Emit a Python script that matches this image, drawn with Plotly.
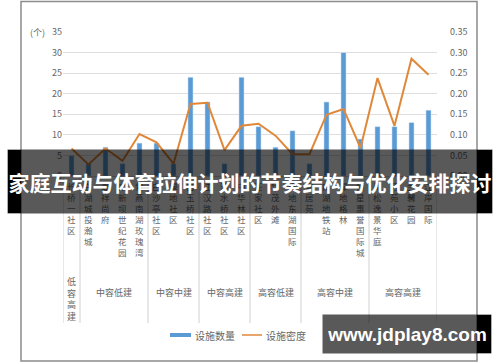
import plotly.graph_objects as go

categories = ["长桥一社区", "东湖城投瀚城", "嘉祥尚府", "南新坝世纪花园", "紫燕南湖玫瑰湾",
              "白沙亭社区", "绿地社区", "白玉桥社区", "江汉路社区", "清水桥社区", "中华林社区",
              "汪家社区", "华茂外滩", "绿地东湖国际", "安居苑", "南湖地铁站", "绿地格林",
              "恒星惠誉国际城", "青松逸景华庭", "芳苑小区", "兰馨花园", "江岸国际"]
facility_count = [5, 3, 7, 3, 8, 8, 3, 24, 18, 3, 24, 12, 7, 11, 3, 18, 30, 9, 12, 12, 13, 16]
facility_density = [0.067, 0.028, 0.067, 0.037, 0.102, 0.082, 0.03, 0.175, 0.178, 0.063, 0.122,
                    0.127, 0.098, 0.053, 0.053, 0.149, 0.163, 0.068, 0.238, 0.122, 0.285, 0.246]
groups = ["低容高建", "中容低建", "中容中建", "中容高建", "高容低建", "高容中建", "高容高建"]
group_sizes = [1, 4, 3, 3, 3, 4, 4]
left_ticks = [0, 5, 10, 15, 20, 25, 30, 35]
right_ticks = [0, 0.05, 0.10, 0.15, 0.20, 0.25, 0.30, 0.35]
title_text = "家庭互动与体育拉伸计划的节奏结构与优化安排探讨"
watermark = "www.jdplay8.com"
legend_names = ["设施数量", "设施密度"]

W, H = 500, 362
L, R, T, B = 63, 437, 32, 176
CJK = "Noto Sans CJK SC"
GRAY = "#666666"
BLUE = "#5b9bd5"
ORANGE = "#e0883a"


def fx(x):
    return (x - L) / (R - L)


def fy(y):
    return (B - y) / (B - T)


fig = go.Figure()
fig.add_trace(go.Bar(x=categories, y=facility_count, marker_color=BLUE, width=0.3,
                     name=legend_names[0], showlegend=False))
fig.add_trace(go.Scatter(x=categories, y=facility_density, mode="lines",
                         line=dict(color=ORANGE, width=2), yaxis="y2",
                         name=legend_names[1], showlegend=False))

shapes = []
annotations = []

# outer frame
shapes.append(dict(type="rect", xref="paper", yref="paper", x0=fx(21), x1=fx(477),
                   y0=fy(361), y1=fy(1.5), line=dict(color="#8c8c8c", width=1.5),
                   fillcolor="rgba(0,0,0,0)", layer="below"))

# group separators
bounds = [-0.5]
acc = -0.5
for s in group_sizes:
    acc += s
    bounds.append(acc)
for b in bounds:
    shapes.append(dict(type="line", xref="x", yref="paper", x0=b, x1=b,
                       y0=fy(176), y1=fy(323), line=dict(color="#d0d0d0", width=1)))

# category labels (vertical text)
for c in categories:
    annotations.append(dict(x=c, xref="x", y=fy(178), yref="paper", yanchor="top",
                            xanchor="center", showarrow=False, text="<br>".join(c),
                            font=dict(family=CJK, size=8.5, color=GRAY)))

# group labels
start = 0
for g, s in zip(groups, group_sizes):
    center = start + (s - 1) / 2
    if s == 1:
        annotations.append(dict(x=center, xref="x", y=fy(273), yref="paper",
                                xanchor="center", yanchor="top",
                                showarrow=False, text="<br>".join(g),
                                font=dict(family=CJK, size=9, color=GRAY)))
    else:
        annotations.append(dict(x=center, xref="x", y=fy(292), yref="paper",
                                xanchor="center", yanchor="middle",
                                showarrow=False, text=g,
                                font=dict(family=CJK, size=9, color=GRAY)))
    start += s

# unit label
annotations.append(dict(x=fx(37), xref="paper", y=fy(32), yref="paper", showarrow=False,
                        xanchor="center", yanchor="middle",
                        text="(个)", font=dict(family=CJK, size=9, color=GRAY)))

# legend
shapes.append(dict(type="line", xref="paper", yref="paper", x0=fx(170), x1=fx(191),
                   y0=fy(335), y1=fy(335), line=dict(color=BLUE, width=4)))
shapes.append(dict(type="line", xref="paper", yref="paper", x0=fx(242), x1=fx(262),
                   y0=fy(335), y1=fy(335), line=dict(color=ORANGE, width=1.5)))
annotations.append(dict(x=fx(193), xref="paper", y=fy(335), yref="paper",
                        xanchor="left", yanchor="middle",
                        showarrow=False, text=legend_names[0],
                        font=dict(family=CJK, size=10, color=GRAY)))
annotations.append(dict(x=fx(264), xref="paper", y=fy(335), yref="paper",
                        xanchor="left", yanchor="middle",
                        showarrow=False, text=legend_names[1],
                        font=dict(family=CJK, size=10, color=GRAY)))

# black ends of overlay bands
shapes.append(dict(type="rect", xref="paper", yref="paper", x0=fx(8), x1=fx(21),
                   y0=fy(213), y1=fy(150), fillcolor="black", line=dict(width=0)))
shapes.append(dict(type="rect", xref="paper", yref="paper", x0=fx(477), x1=fx(492),
                   y0=fy(213), y1=fy(150), fillcolor="black", line=dict(width=0)))
shapes.append(dict(type="rect", xref="paper", yref="paper", x0=fx(477), x1=fx(491),
                   y0=fy(353), y1=fy(315), fillcolor="black", line=dict(width=0)))

# title band
annotations.append(dict(x=fx(250), xref="paper", y=fy(181.5), yref="paper",
                        xanchor="center", yanchor="middle", showarrow=False,
                        width=484, height=63, borderpad=0, bgcolor="rgba(0,0,0,0.65)",
                        text="<b>" + title_text + "</b>",
                        font=dict(family=CJK, size=21, color="white")))
# watermark band
annotations.append(dict(x=fx(407), xref="paper", y=fy(334), yref="paper",
                        xanchor="center", yanchor="middle", showarrow=False,
                        width=168, height=38, borderpad=0, bgcolor="rgba(0,0,0,0.65)",
                        text="<b>" + watermark + "</b>",
                        font=dict(family="Liberation Sans", size=19, color="white")))

fig.update_layout(
    width=W, height=H,
    margin=dict(l=L, r=W - R, t=T, b=H - B, pad=0),
    paper_bgcolor="white", plot_bgcolor="white",
    bargap=0.7,
    showlegend=False,
    xaxis=dict(type="category", range=[-0.5, len(categories) - 0.5], showticklabels=False,
               showgrid=False, showline=True, linecolor="#d0d0d0", linewidth=1, ticks="",
               fixedrange=True),
    yaxis=dict(range=[0, 35], tickvals=left_ticks, ticktext=[str(v) for v in left_ticks],
               showgrid=True, gridcolor="#dedede", gridwidth=1, zeroline=False,
               showline=False, ticks="", ticklen=0, tickfont=dict(family=CJK, size=9, color=GRAY),
               ticklabelstandoff=0, fixedrange=True),
    yaxis2=dict(range=[0, 0.35], overlaying="y", side="right", tickvals=right_ticks,
                ticktext=["%.2f" % v for v in right_ticks], showgrid=False, zeroline=False,
                showline=False, ticks="", ticklen=0, tickfont=dict(family=CJK, size=9, color=GRAY),
                ticklabelstandoff=12, fixedrange=True),
    shapes=shapes,
    annotations=annotations,
)

fig.write_html("out.html", config={"displayModeBar": False},
               post_script="document.body.style.margin='0';document.body.style.padding='0';")
